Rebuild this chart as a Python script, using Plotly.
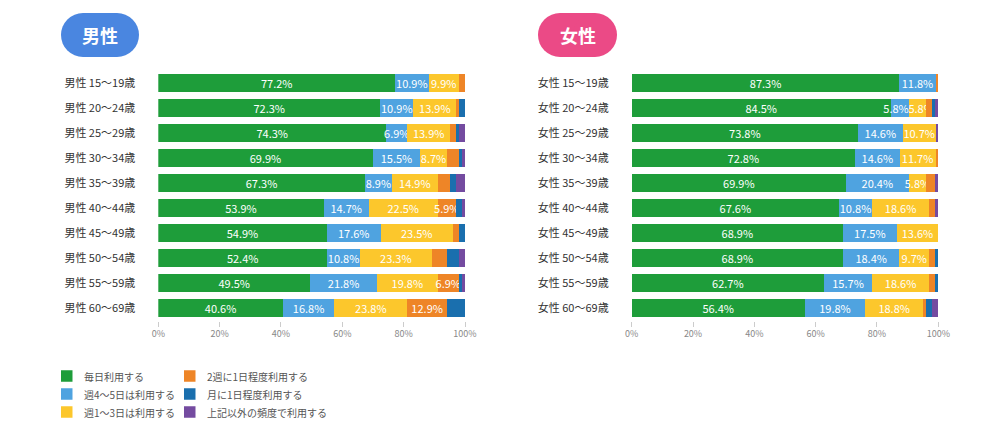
import plotly.graph_objects as go

# 年代カテゴリ
ages = ["15～19歳", "20～24歳", "25～29歳", "30～34歳", "35～39歳",
        "40～44歳", "45～49歳", "50～54歳", "55～59歳", "60～69歳"]

series_names = ["毎日利用する", "週4～5日は利用する", "週1～3日は利用する",
                "2週に1日程度利用する", "月に1日程度利用する", "上記以外の頻度で利用する"]
series_colors = ["#1e9d3a", "#4fa3e0", "#fcc72c", "#ee8527", "#1a6fae", "#744ba0"]

# 男性 (%)
male_daily = [77.2, 72.3, 74.3, 69.9, 67.3, 53.9, 54.9, 55.0, 49.5, 40.6]
male_4to5 = [10.9, 10.9, 6.9, 15.5, 8.9, 14.7, 17.6, 10.8, 21.8, 16.8]
male_1to3 = [9.9, 13.9, 13.9, 8.7, 14.9, 22.5, 23.5, 23.3, 19.8, 23.8]
male_biweekly = [2.0, 1.0, 2.0, 3.9, 4.0, 5.9, 2.0, 5.0, 6.9, 12.9]
male_monthly = [0.0, 1.9, 1.0, 1.0, 2.0, 2.0, 2.0, 3.9, 1.0, 5.9]
male_other = [0.0, 0.0, 1.9, 1.0, 2.9, 1.0, 0.0, 2.0, 1.0, 0.0]

# 女性 (%)
female_daily = [87.3, 84.5, 73.8, 72.8, 69.9, 67.6, 68.9, 68.9, 62.7, 56.4]
female_4to5 = [11.8, 5.8, 14.6, 14.6, 20.4, 10.8, 17.5, 18.4, 15.7, 19.8]
female_1to3 = [0.0, 5.8, 10.7, 11.7, 5.8, 18.6, 13.6, 9.7, 18.6, 18.8]
female_biweekly = [0.9, 1.9, 0.0, 0.9, 2.9, 2.0, 0.0, 2.0, 2.0, 1.0]
female_monthly = [0.0, 1.0, 0.0, 0.0, 0.0, 0.0, 0.0, 1.0, 1.0, 2.0]
female_other = [0.0, 1.0, 0.9, 0.0, 1.0, 1.0, 0.0, 0.0, 0.0, 2.0]

# 表示ラベルが数値と違う箇所・ずらす箇所（元の図のまま）
NB = "\u00a0"
label_override = {
    ("male", 0, 7): "52.4%",
    ("female", 1, 1): "5.8%" + NB * 3,
    ("female", 2, 1): NB * 3 + "5.8%",
}

male = [male_daily, male_4to5, male_1to3, male_biweekly, male_monthly, male_other]
female = [female_daily, female_4to5, female_1to3, female_biweekly, female_monthly, female_other]

W, H = 1004, 430
def px(x):
    return x / W
def py(y):
    return 1 - y / H

fig = go.Figure()

for key, data, xa, ya in [("male", male, "x", "y"), ("female", female, "x2", "y2")]:
    for i, vals in enumerate(data):
        texts = []
        for j, v in enumerate(vals):
            # ラベルは上位4区分で5.5%以上のみ
            t = f"{v:.1f}%" if (v >= 5.5 and i < 4) else ""
            texts.append(label_override.get((key, i, j), t))
        fig.add_trace(go.Bar(
            x=vals, y=ages, orientation="h",
            name=series_names[i], marker=dict(color=series_colors[i], line=dict(width=0)),
            text=texts, textposition="inside", insidetextanchor="middle",
            textangle=0, constraintext="none",
            textfont=dict(color="white", size=11),
            xaxis=xa, yaxis=ya, showlegend=False, hoverinfo="skip",
        ))

ax_common = dict(range=[0, 100], tickvals=[0, 20, 40, 60, 80, 100],
                 ticktext=["0%", "20%", "40%", "60%", "80%", "100%"],
                 ticks="outside", ticklen=5, tickcolor="#cccccc", tickwidth=1,
                 showgrid=False, zeroline=False, showline=False, automargin=False,
                 tickfont=dict(size=9, color="#888888"), fixedrange=True)
ay_common = dict(autorange="reversed", showgrid=False, zeroline=False, showline=False,
                 automargin=False,
                 tickfont=dict(size=11, color="#333333"), ticklabelstandoff=22,
                 domain=[py(320.5), py(70.5)], fixedrange=True)

fig.update_layout(
    width=W, height=H, margin=dict(l=0, r=0, t=0, b=0),
    paper_bgcolor="white", plot_bgcolor="white",
    barmode="stack", bargap=0.3,
    font=dict(family="Noto Sans CJK JP"),
    uniformtext=dict(minsize=11, mode="show"),
    xaxis=dict(domain=[px(158.3), px(465)], anchor="y", **ax_common),
    yaxis=dict(anchor="x", tickvals=ages, ticktext=["男性 " + a for a in ages], **ay_common),
    xaxis2=dict(domain=[px(631.7), px(938.3)], anchor="y2", **ax_common),
    yaxis2=dict(anchor="x2", tickvals=ages, ticktext=["女性 " + a for a in ages], **ay_common),
)

# 見出しのピル
def pill(x0, x1, y0, y1, color, label):
    r = (y1 - y0) / 2
    common = dict(xref="paper", yref="paper", fillcolor=color, line=dict(width=0), layer="above")
    fig.add_shape(type="rect", x0=px(x0 + r), x1=px(x1 - r), y0=py(y1), y1=py(y0), **common)
    fig.add_shape(type="circle", x0=px(x0), x1=px(x0 + 2 * r), y0=py(y1), y1=py(y0), **common)
    fig.add_shape(type="circle", x0=px(x1 - 2 * r), x1=px(x1), y0=py(y1), y1=py(y0), **common)
    fig.add_annotation(x=px((x0 + x1) / 2), y=py((y0 + y1) / 2), xref="paper", yref="paper",
                       text=f"<b>{label}</b>", showarrow=False,
                       font=dict(size=18, color="white"), xanchor="center", yanchor="middle")

pill(61, 139, 13, 57, "#4a86e0", "男性")
pill(538, 617, 13, 57, "#eb4a86", "女性")

# 凡例（手作り）
legend_cols = [(61, 82), (184, 205)]
legend_rows = [376, 394, 412]
for k, name in enumerate(series_names):
    cx, tx = legend_cols[k // 3]
    cy = legend_rows[k % 3]
    fig.add_shape(type="rect", xref="paper", yref="paper",
                  x0=px(cx), x1=px(cx + 11.5), y0=py(cy + 5.75), y1=py(cy - 5.75),
                  fillcolor=series_colors[k], line=dict(width=0))
    fig.add_annotation(x=px(tx), y=py(cy), xref="paper", yref="paper", text=name,
                       showarrow=False, xanchor="left", yanchor="middle",
                       font=dict(size=10, color="#555555"))

# ページの余白を消す
fig.write_html("out.html", config={"displayModeBar": False},
               post_script="document.body.style.margin='0';")
